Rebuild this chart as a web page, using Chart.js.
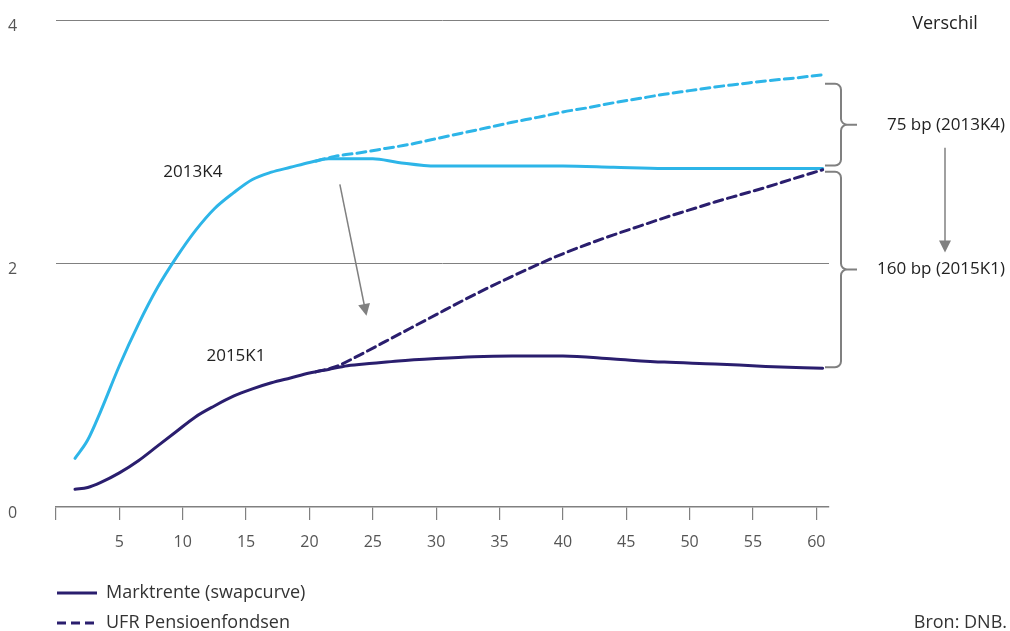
<!DOCTYPE html>
<html>
<head>
<meta charset="utf-8">
<script src="https://cdn.jsdelivr.net/npm/chart.js@4.4.1/dist/chart.umd.min.js"></script>
<style>
  body { margin: 0; background: #fff; }
  #wrap { width: 1010px; height: 631px; position: relative; }
</style>
</head>
<body>
<div id="wrap"><canvas id="rateChart"></canvas></div>
<script>
// looptijd in jaren (positie op de x-as) en rente in procenten
const looptijdSwap = [1.5, 2.5, 3.5, 5, 6.5, 8, 9.5, 11, 12.5, 14, 15.5, 17, 18.5, 20, 21.5, 23, 25, 27, 30, 33, 36, 40, 44, 48, 52, 56, 60.5]
const swap2013K4 = [0.40, 0.55, 0.78, 1.16, 1.50, 1.80, 2.05, 2.27, 2.45, 2.58, 2.69, 2.75, 2.79, 2.83, 2.86, 2.86, 2.86, 2.83, 2.80, 2.80, 2.80, 2.80, 2.79, 2.78, 2.78, 2.78, 2.78]
const swap2015K1 = [0.145, 0.16, 0.20, 0.28, 0.38, 0.50, 0.62, 0.74, 0.83, 0.91, 0.97, 1.02, 1.06, 1.10, 1.13, 1.16, 1.18, 1.20, 1.22, 1.235, 1.24, 1.24, 1.215, 1.19, 1.175, 1.155, 1.14]

const looptijdUfr = [20.5, 22, 24, 26, 28, 30, 32, 34, 36, 38, 40, 42, 44, 46, 48, 50, 52, 54, 56, 58, 60.5]
const ufr2013K4 = [2.84, 2.88, 2.91, 2.945, 2.98, 3.025, 3.07, 3.115, 3.16, 3.20, 3.245, 3.28, 3.32, 3.355, 3.39, 3.42, 3.45, 3.475, 3.50, 3.52, 3.55]
const ufr2015K1 = [1.11, 1.15, 1.25, 1.36, 1.47, 1.58, 1.69, 1.795, 1.895, 1.99, 2.08, 2.16, 2.235, 2.305, 2.375, 2.44, 2.505, 2.565, 2.625, 2.69, 2.77]

const legendLabels = ["Marktrente (swapcurve)", "UFR Pensioenfondsen"]
const curveLabels = ["2013K4", "2015K1"]
const diffLabels = ["75 bp (2013K4)", "160 bp (2015K1)"]

const lightBlue = "#2db5e8"
const navy = "#2a1e6e"
const grey = "#808080"
const textColor = "#222"
const dash = [9, 5]

Chart.defaults.font.family = '"Open Sans", sans-serif'

function toPoints(xs, ys) {
    return xs.map((x, i) => ({x: x, y: ys[i]}))
}

function last(arr) {
    return arr[arr.length - 1]
}

function arrowHead(ctx, x1, y1, x2, y2) {
    const ang = Math.atan2(y2 - y1, x2 - x1)
    const len = 12, half = 6
    ctx.beginPath()
    ctx.moveTo(x2, y2)
    ctx.lineTo(x2 - len * Math.cos(ang) + half * Math.sin(ang), y2 - len * Math.sin(ang) - half * Math.cos(ang))
    ctx.lineTo(x2 - len * Math.cos(ang) - half * Math.sin(ang), y2 - len * Math.sin(ang) + half * Math.cos(ang))
    ctx.closePath()
    ctx.fill()
}

function arrow(ctx, x1, y1, x2, y2) {
    const ang = Math.atan2(y2 - y1, x2 - x1)
    ctx.beginPath()
    ctx.moveTo(x1, y1)
    ctx.lineTo(x2 - 8 * Math.cos(ang), y2 - 8 * Math.sin(ang))
    ctx.stroke()
    arrowHead(ctx, x1, y1, x2, y2)
}

function brace(ctx, x0, top, bottom) {
    const spine = x0 + 16, tip = x0 + 32, r = 6
    const mid = (top + bottom) / 2
    ctx.beginPath()
    ctx.moveTo(x0, top)
    ctx.arcTo(spine, top, spine, top + r, r)
    ctx.lineTo(spine, mid - r)
    ctx.arcTo(spine, mid, spine + r, mid, r)
    ctx.lineTo(tip, mid)
    ctx.moveTo(spine + r, mid)
    ctx.arcTo(spine, mid, spine, mid + r, r)
    ctx.lineTo(spine, bottom - r)
    ctx.arcTo(spine, bottom, x0, bottom, r)
    ctx.lineTo(x0, bottom)
    ctx.stroke()
    return mid
}

const annotations = {
    id: 'annotations',
    afterDraw(chart) {
        const {ctx, chartArea} = chart
        const xs = chart.scales.x, ys = chart.scales.y
        ctx.save()

        // labels next to the curves
        ctx.fillStyle = textColor
        ctx.font = '17px "Open Sans", sans-serif'
        ctx.textAlign = 'center'
        ctx.textBaseline = 'middle'
        ctx.fillText(curveLabels[0], xs.getPixelForValue(10.8), ys.getPixelForValue(2.75))
        ctx.fillText(curveLabels[1], xs.getPixelForValue(14.2), ys.getPixelForValue(1.24))

        // arrow from 2013K4 to 2015K1
        ctx.strokeStyle = grey
        ctx.fillStyle = grey
        ctx.lineWidth = 1.5
        arrow(ctx, xs.getPixelForValue(22.4), ys.getPixelForValue(2.65), xs.getPixelForValue(24.5), ys.getPixelForValue(1.57))

        // braces showing the difference at the long end
        ctx.lineWidth = 2
        const bx = chartArea.right - 4
        const mid1 = brace(ctx, bx, ys.getPixelForValue(last(ufr2013K4)) + 9, ys.getPixelForValue(last(swap2013K4)) - 3)
        const mid2 = brace(ctx, bx, ys.getPixelForValue(last(ufr2015K1)) + 2, ys.getPixelForValue(last(swap2015K1)) - 1)

        ctx.fillStyle = textColor
        ctx.font = '17px "Open Sans", sans-serif'
        ctx.textAlign = 'center'
        ctx.fillText(diffLabels[0], 946, mid1)
        ctx.fillText(diffLabels[1], 941, mid2)
        ctx.font = '18px "Open Sans", sans-serif'
        ctx.fillText("Verschil", 945, 24)

        ctx.strokeStyle = grey
        ctx.fillStyle = grey
        ctx.lineWidth = 1.5
        arrow(ctx, 945, mid1 + 23, 945, mid2 - 17)

        // legend
        ctx.strokeStyle = navy
        ctx.lineWidth = 3
        ctx.beginPath()
        ctx.moveTo(57, 593)
        ctx.lineTo(97, 593)
        ctx.stroke()
        ctx.setLineDash(dash)
        ctx.beginPath()
        ctx.moveTo(57, 623)
        ctx.lineTo(97, 623)
        ctx.stroke()
        ctx.setLineDash([])

        ctx.fillStyle = '#333'
        ctx.font = '18px "Open Sans", sans-serif'
        ctx.textAlign = 'left'
        ctx.fillText(legendLabels[0], 106, 593)
        ctx.fillText(legendLabels[1], 106, 623)
        ctx.textAlign = 'right'
        ctx.fillText("Bron: DNB.", 1007, 623)

        ctx.restore()
    }
}

const rateChart = new Chart(document.getElementById('rateChart'), {
    type: 'line',
    data: {
        datasets: [{
            data: toPoints(looptijdUfr, ufr2013K4),
            borderColor: lightBlue,
            borderDash: dash,
        }, {
            data: toPoints(looptijdUfr, ufr2015K1),
            borderColor: navy,
            borderDash: dash,
        }, {
            data: toPoints(looptijdSwap, swap2013K4),
            borderColor: lightBlue,
        }, {
            data: toPoints(looptijdSwap, swap2015K1),
            borderColor: navy,
        }]
    },
    options: {
        responsive: true,
        maintainAspectRatio: false,
        animation: false,
        layout: {
            padding: {left: 8, top: 20, right: 181, bottom: 74}
        },
        elements: {
            point: {radius: 0},
            line: {borderWidth: 3, cubicInterpolationMode: 'monotone', borderCapStyle: 'round'}
        },
        plugins: {
            legend: {display: false},
            tooltip: {enabled: false}
        },
        scales: {
            x: {
                type: 'linear',
                min: 0,
                max: 61,
                afterFit: (scale) => { scale.height = 50 },
                border: {color: grey, width: 1.5},
                grid: {drawOnChartArea: false, drawTicks: true, tickLength: 13, color: grey, lineWidth: 1.2},
                ticks: {
                    stepSize: 5,
                    includeBounds: false,
                    autoSkip: false,
                    maxRotation: 0,
                    padding: 13,
                    color: '#555',
                    font: {size: 16},
                    callback: (v) => v === 0 ? '' : v
                }
            },
            y: {
                min: 0,
                max: 4,
                afterFit: (scale) => { scale.width = 48 },
                border: {display: false},
                grid: {
                    drawTicks: false,
                    lineWidth: 1,
                    color: (c) => c.tick && c.tick.value === 0 ? 'rgba(0,0,0,0)' : grey
                },
                ticks: {
                    stepSize: 2,
                    crossAlign: 'far',
                    labelOffset: 6,
                    color: '#555',
                    font: {size: 16}
                }
            }
        }
    },
    plugins: [annotations]
})
</script>
</body>
</html>
